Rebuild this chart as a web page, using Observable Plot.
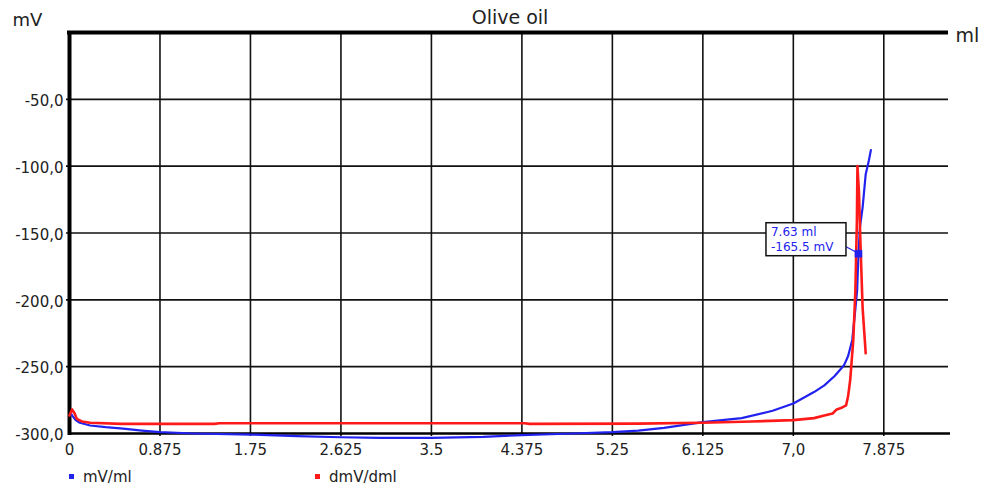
<!DOCTYPE html>
<html><head><meta charset="utf-8">
<script src="https://cdn.jsdelivr.net/npm/d3@7"></script>
<script src="https://cdn.jsdelivr.net/npm/@observablehq/plot@0.6"></script>
<style>
html,body{margin:0;padding:0;background:#fff;}
#chart{position:relative;width:982px;height:490px;font-family:"DejaVu Sans",sans-serif;color:#222;}
#legend{position:relative;height:25px;font-size:15px;}
.item{position:absolute;top:0;height:25px;line-height:25px;white-space:nowrap;}
.sw{display:inline-block;width:5px;height:5px;vertical-align:middle;margin-right:9px;position:relative;top:-1px;}
</style></head><body><div id="chart"></div>
<script>
const title = "Olive oil";
const yUnit = "mV";
const xUnit = "ml";
const xTicks = [0, 0.875, 1.75, 2.625, 3.5, 4.375, 5.25, 6.125, 7.0, 7.875];
const xTickLabels = ["0", "0.875", "1.75", "2.625", "3.5", "4.375", "5.25", "6.125", "7,0", "7.875"];
const yTicks = [-300, -250, -200, -150, -100, -50];
const yTickLabels = ["-300,0", "-250,0", "-200,0", "-150,0", "-100,0", "-50,0"];
const seriesNames = ["mV/ml", "dmV/dml"];

// mV/ml curve (blue)
const mvVolume = [0.01, 0.03, 0.06, 0.1, 0.2, 0.35, 0.52, 0.7, 0.875, 1.2, 1.75, 2.2, 2.625, 3.0, 3.5, 4.0, 4.375, 4.8, 5.25, 5.5, 5.75, 6.125, 6.5, 6.8, 7.0, 7.2, 7.3, 7.4, 7.49, 7.53, 7.57, 7.6, 7.617, 7.63, 7.645, 7.67, 7.7, 7.73, 7.75];
const mvValue  = [-284.5, -287, -290, -292, -294, -295.3, -296.3, -297.8, -299, -300, -300.8, -302, -302.8, -303.2, -303.2, -302.5, -301.2, -300.2, -299, -297.8, -295.8, -291.5, -288.5, -283, -277.5, -269, -264, -257, -249, -242, -230, -207, -193, -165.5, -145, -131, -106, -96, -88];

// dmV/dml curve (red)
const dVolume = [0, 0.025, 0.05, 0.07, 0.12, 0.2, 0.5, 1.4, 1.45, 4.4, 4.45, 5.5, 6.125, 6.6, 7.0, 7.2, 7.3, 7.38, 7.42, 7.46, 7.51, 7.53, 7.55, 7.58, 7.6, 7.615, 7.62, 7.635, 7.65, 7.67, 7.7];
const dValue  = [-286.5, -282, -285, -289, -291, -292, -292.8, -292.8, -292.3, -292.3, -292.8, -292.6, -292, -291, -290, -288.5, -286.5, -285, -282, -281, -279, -272, -260, -230, -193, -140, -100, -120, -160, -206, -240];

const markerVolume = 7.63;
const markerPotential = -165.5;
const markerLabels = ["7.63 ml", "-165.5 mV"];

const blue = "#2222ee";
const red = "#ff1a1a";
const ink = "#222";

const blueData = mvVolume.map((v, i) => ({x: v, y: mvValue[i]}));
const redData = dVolume.map((v, i) => ({x: v, y: dValue[i]}));
const xTickData = xTicks.map((v, i) => ({v, label: xTickLabels[i]}));
const yTickData = yTicks.map((v, i) => ({v, label: yTickLabels[i]}));

const plot = Plot.plot({
  width: 982,
  height: 465,
  marginLeft: 69,
  marginRight: 32,
  marginTop: 32,
  marginBottom: 32,
  style: {fontFamily: "DejaVu Sans, sans-serif", fontSize: "15px", color: ink, background: "white", overflow: "visible"},
  x: {domain: [0, 8.52], axis: null},
  y: {domain: [-300, 0], axis: null},
  marks: [
    // grid
    Plot.ruleX(xTicks.slice(1), {x: d => d, stroke: "#111", strokeWidth: 1.6, insetBottom: -3}),
    Plot.ruleY(yTicks.slice(1), {y: d => d, stroke: "#111", strokeWidth: 1.6, insetLeft: -3, insetRight: 2}),
    // frame lines
    Plot.ruleY([0], {y: d => d, stroke: "#000", strokeWidth: 4, insetLeft: -2, insetRight: 2}),
    Plot.ruleX([0], {x: d => d, stroke: "#000", strokeWidth: 4, insetBottom: -2}),
    Plot.ruleY([-300], {y: d => d, stroke: "#000", strokeWidth: 2.6}),
    // tick labels
    Plot.text(xTickData, {x: "v", text: "label", frameAnchor: "bottom", lineAnchor: "middle", dy: 17, fill: ink, fontSize: 15}),
    Plot.text(yTickData, {y: "v", text: "label", frameAnchor: "left", lineAnchor: "middle", dx: -6, dy: 2, textAnchor: "end", fill: ink, fontSize: 15}),
    // titles
    Plot.text([title], {text: d => d, frameAnchor: "top", lineAnchor: "middle", dy: -15, fill: ink, fontSize: 19}),
    Plot.text([yUnit], {text: d => d, frameAnchor: "top-left", lineAnchor: "middle", dx: -42, dy: -12, textAnchor: "middle", fill: ink, fontSize: 18}),
    Plot.text([xUnit], {text: d => d, frameAnchor: "top-right", lineAnchor: "middle", dx: 5, dy: 3, textAnchor: "start", fill: ink, fontSize: 19}),
    // series
    Plot.line(blueData, {x: "x", y: "y", stroke: blue, strokeWidth: 2.2}),
    Plot.line(redData, {x: "x", y: "y", stroke: red, strokeWidth: 2.6}),
    // marker + annotation
    Plot.dot([{x: markerVolume, y: markerPotential}], {
      x: "x", y: "y", symbol: "square", r: 4, fill: blue, stroke: blue, strokeWidth: 0.5,
      render(index, scales, values, dimensions, context, next) {
        const g = next(index, scales, values, dimensions, context);
        const i = index[0];
        const px = values.x[i], py = values.y[i];
        const sel = d3.select(g);
        const grp = sel.insert("g", ":first-child");
        grp.append("line")
          .attr("x1", px - 12.5).attr("y1", py - 7)
          .attr("x2", px - 1).attr("y2", py - 1)
          .attr("stroke", blue).attr("stroke-width", 1.2);
        grp.append("rect")
          .attr("x", px - 92.5).attr("y", py - 31)
          .attr("width", 80).attr("height", 33)
          .attr("fill", "white").attr("stroke", "#111").attr("stroke-width", 1.5);
        markerLabels.forEach((t, k) => {
          grp.append("text")
            .attr("x", px - 87.5).attr("y", py - 18 + k * 15)
            .attr("fill", blue).attr("stroke", "none").attr("font-size", 12)
            .attr("text-anchor", "start")
            .attr("font-family", "DejaVu Sans, sans-serif")
            .text(t);
        });
        return g;
      }
    })
  ]
});

const chart = document.getElementById("chart");
chart.appendChild(plot);
const legend = document.createElement("div");
legend.id = "legend";
const legendColors = [blue, red];
const legendLeft = [69, 315];
seriesNames.forEach((name, k) => {
  const item = document.createElement("div");
  item.className = "item";
  item.style.left = legendLeft[k] + "px";
  const sw = document.createElement("span");
  sw.className = "sw";
  sw.style.background = legendColors[k];
  item.appendChild(sw);
  item.appendChild(document.createTextNode(name));
  legend.appendChild(item);
});
chart.appendChild(legend);
</script>
</body></html>
